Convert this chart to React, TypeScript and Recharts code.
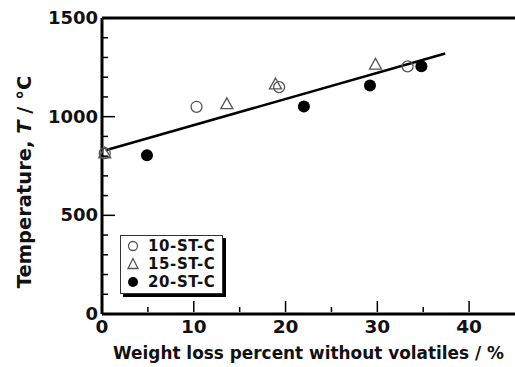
import React from 'react';
import {
  ComposedChart,
  Scatter,
  Line,
  XAxis,
  YAxis,
  ReferenceLine,
  Label,
} from 'recharts';

// weight loss (%) and temperature (°C) per sample series
const st10X = [0.3, 10.3, 19.3, 33.3];
const st10Y = [815, 1050, 1150, 1255];
const st15X = [0.3, 13.6, 18.9, 29.8];
const st15Y = [815, 1065, 1165, 1265];
const st20X = [4.9, 22.0, 29.2, 34.8];
const st20Y = [805, 1052, 1158, 1255];

// fitted line end points
const fitX = [0.4, 37.4];
const fitY = [830, 1320];

const xTicks = [0, 5, 10, 15, 20, 25, 30, 35, 40];
const yTicks = [0, 100, 200, 300, 400, 500, 600, 700, 800, 900, 1000, 1100, 1200, 1300, 1400, 1500];

const zip = (xs: number[], ys: number[]) => xs.map((x, i) => ({ x, y: ys[i] }));

const FONT = '"DejaVu Sans", Verdana, sans-serif';

const OpenCircle = (props: any) => (
  <circle cx={props.cx} cy={props.cy} r={5.5} fill="none" stroke="#555" strokeWidth={1.3} />
);

const OpenTriangle = (props: any) => {
  const { cx, cy } = props;
  const s = 6;
  return (
    <path
      d={`M${cx},${cy - s} L${cx + s},${cy + s * 0.8} L${cx - s},${cy + s * 0.8} Z`}
      fill="none"
      stroke="#555"
      strokeWidth={1.3}
    />
  );
};

const FilledCircle = (props: any) => <circle cx={props.cx} cy={props.cy} r={6} fill="#000" />;

const YTick = (props: any) => {
  const { x, y, payload } = props;
  const v = payload.value;
  const major = v % 500 === 0;
  const ax = x + 5;
  return (
    <g>
      <line x1={ax} y1={y} x2={ax + (major ? 13 : 6)} y2={y} stroke="#000" strokeWidth={1.5} />
      {major && (
        <text x={ax - 4} y={y} dy={6} textAnchor="end" fontSize={18} fontWeight="bold" fontFamily={FONT} fill="#111">
          {v}
        </text>
      )}
    </g>
  );
};

const XTick = (props: any) => {
  const { x, y, payload } = props;
  const v = payload.value;
  const major = v % 10 === 0;
  const ay = y - 2;
  return (
    <g>
      <line x1={x} y1={ay} x2={x} y2={ay - (major ? 11 : 5)} stroke="#000" strokeWidth={1.5} />
      {major && (
        <text x={x} y={ay + 21} textAnchor="middle" fontSize={18.5} fontWeight="bold" fontFamily={FONT} fill="#111">
          {v}
        </text>
      )}
    </g>
  );
};

const legendItems = [
  { name: '10-ST-C', kind: 'open' },
  { name: '15-ST-C', kind: 'tri' },
  { name: '20-ST-C', kind: 'fill' },
];

const LegendBox = () => (
  <div
    style={{
      position: 'absolute',
      left: 120,
      top: 235,
      width: 103,
      height: 59,
      border: '1.5px solid #333',
      background: '#fff',
      boxShadow: '3px 3px 0 #000',
      fontFamily: FONT,
      fontWeight: 'bold',
      fontSize: 15,
      lineHeight: '18px',
      color: '#111',
      boxSizing: 'border-box',
      paddingTop: 1,
    }}
  >
    {legendItems.map((it) => (
      <div key={it.name} style={{ display: 'flex', alignItems: 'center', height: 18 }}>
        <svg width={26} height={14} style={{ marginLeft: 1 }}>
          {it.kind === 'open' && <circle cx={11} cy={7} r={4.5} fill="none" stroke="#555" strokeWidth={1.3} />}
          {it.kind === 'tri' && <path d="M11,1.5 L16,11.5 L6,11.5 Z" fill="none" stroke="#555" strokeWidth={1.3} />}
          {it.kind === 'fill' && <circle cx={11} cy={7} r={5} fill="#000" />}
        </svg>
        <span style={{ letterSpacing: 0.6 }}>{it.name}</span>
      </div>
    ))}
  </div>
);

export default function App() {
  return (
    <div style={{ position: 'absolute', left: 0, top: 0, width: 515, height: 367, background: '#fff' }}>
      <ComposedChart width={515} height={367} margin={{ top: 18, right: 0, bottom: 0, left: 0 }}>
        <XAxis
          dataKey="x"
          type="number"
          domain={[0, 45]}
          ticks={xTicks}
          interval={0}
          tickLine={false}
          tickSize={0}
          tickMargin={0}
          tick={<XTick />}
          height={53}
          axisLine={{ stroke: '#000', strokeWidth: 3 }}
        >
          <Label
            value="Weight loss percent without volatiles / %"
            position="insideBottom"
            offset={8}
            style={{ fontFamily: FONT, fontWeight: 'bold', fontSize: 16.9, fill: '#111' }}
          />
        </XAxis>
        <YAxis
          type="number"
          domain={[0, 1500]}
          ticks={yTicks}
          interval={0}
          width={102}
          tickLine={false}
          tickSize={0}
          tickMargin={5}
          tick={<YTick />}
          axisLine={{ stroke: '#000', strokeWidth: 3 }}
        >
          <Label
            content={() => (
              <text
                transform="translate(31,182) rotate(-90)"
                textAnchor="middle"
                fontFamily={FONT}
                fontWeight="bold"
                fontSize={19.5}
                fill="#111"
              >
                Temperature, <tspan fontStyle="italic">T</tspan> / °C
              </text>
            )}
          />
        </YAxis>
        <ReferenceLine y={1500} stroke="#000" strokeWidth={3} />
        <Line
          data={zip(fitX, fitY)}
          dataKey="y"
          stroke="#000"
          strokeWidth={2.5}
          dot={false}
          isAnimationActive={false}
        />
        <Scatter data={zip(st10X, st10Y)} dataKey="y" shape={<OpenCircle />} isAnimationActive={false} />
        <Scatter data={zip(st15X, st15Y)} dataKey="y" shape={<OpenTriangle />} isAnimationActive={false} />
        <Scatter data={zip(st20X, st20Y)} dataKey="y" shape={<FilledCircle />} isAnimationActive={false} />
      </ComposedChart>
      <LegendBox />
    </div>
  );
}
